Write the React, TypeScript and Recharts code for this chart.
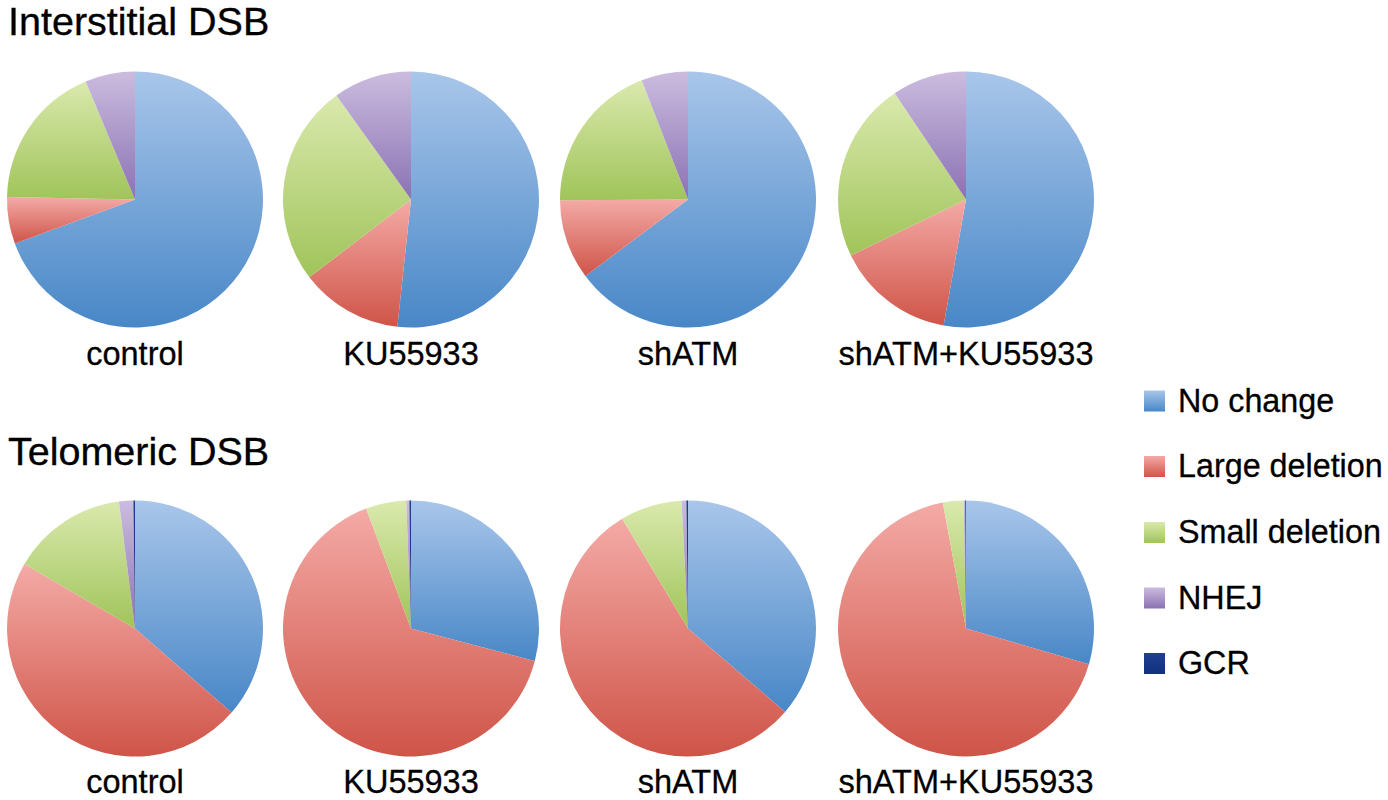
import React from 'react';
import { PieChart, Pie, Cell } from 'recharts';

const categories = ['No change', 'Large deletion', 'Small deletion', 'NHEJ', 'GCR'];
const conditions = ['control', 'KU55933', 'shATM', 'shATM+KU55933'];
const panelTitles = ['Interstitial DSB', 'Telomeric DSB'];

const interstitialControl = [69.4, 5.9, 18.4, 6.3, 0];
const interstitialKU = [51.7, 12.9, 25.5, 9.9, 0];
const interstitialShATM = [64.8, 10.1, 19.2, 5.9, 0];
const interstitialShATMKU = [52.8, 15.0, 22.8, 9.4, 0];

const telomericControl = [36.4, 47.0, 14.6, 1.8, 0.2];
const telomericKU = [29.1, 65.2, 5.1, 0.4, 0.2];
const telomericShATM = [36.3, 55.1, 7.8, 0.6, 0.2];
const telomericShATMKU = [29.5, 67.6, 2.6, 0.2, 0.1];

const rows = [
  [interstitialControl, interstitialKU, interstitialShATM, interstitialShATMKU],
  [telomericControl, telomericKU, telomericShATM, telomericShATMKU],
];

const gradTop = ['#A9C6EA', '#F4AAA6', '#DAE9AD', '#CBBCDF', '#1E3F92'];
const gradBottom = ['#4887C7', '#CF5448', '#A0C45A', '#8B72B3', '#13307F'];

const colX = [135, 411, 688, 966];
const rowY = [199.5, 628.5];
const radius = 128;
const labelY = [365, 793];
const titleY = [35, 465];
const legendY = [390.5, 456, 522, 587.5, 653];

const FONT = '"Liberation Sans", Arial, sans-serif';

export default function App() {
  return (
    <div style={{ position: 'absolute', left: 0, top: 0, width: 1388, height: 800, background: '#fff' }}>
      <svg width={0} height={0} style={{ position: 'absolute' }}>
        <defs>
          {categories.map((c, i) => (
            <linearGradient key={c} id={`grad-${i}`} x1="0" y1="0" x2="0" y2="1">
              <stop offset="0%" stopColor={gradTop[i]} />
              <stop offset="100%" stopColor={gradBottom[i]} />
            </linearGradient>
          ))}
        </defs>
      </svg>
      <div style={{ position: 'absolute', left: 0, top: 0 }}>
        <PieChart width={1388} height={800} margin={{ top: 0, right: 0, bottom: 0, left: 0 }}>
          {rows.map((row, r) =>
            row.map((vals, c) => (
              <Pie
                key={`pie-${r}-${c}`}
                data={categories.map((name, i) => ({ name, value: vals[i] }))}
                dataKey="value"
                nameKey="name"
                cx={colX[c]}
                cy={rowY[r]}
                outerRadius={radius}
                innerRadius={0}
                startAngle={90}
                endAngle={-270}
                stroke="none"
                isAnimationActive={false}
                label={false}
                labelLine={false}
              >
                {categories.map((name, i) => (
                  <Cell key={name} fill={`url(#grad-${i})`} stroke="none" />
                ))}
              </Pie>
            ))
          )}
        </PieChart>
      </div>
      <svg width={1388} height={800} style={{ position: 'absolute', left: 0, top: 0, pointerEvents: 'none' }}>
        {panelTitles.map((t, r) => (
          <text key={t} x={8} y={titleY[r]} fontFamily={FONT} fontSize={39.5} fill="#000" stroke="#000" strokeWidth={0.35}>
            {t}
          </text>
        ))}
        {rows.map((row, r) =>
          conditions.map((cond, c) => (
            <text
              key={`lbl-${r}-${c}`}
              x={colX[c]}
              y={labelY[r]}
              textAnchor="middle"
              fontFamily={FONT}
              fontSize={32.5}
              fill="#000"
              stroke="#000"
              strokeWidth={0.3}
            >
              {cond}
            </text>
          ))
        )}
        {categories.map((c, i) => (
          <g key={c}>
            <rect x={1144} y={legendY[i]} width={21} height={21} fill={`url(#grad-${i})`} />
            <text x={1178} y={legendY[i] + 21} fontFamily={FONT} fontSize={32.3} fill="#000" stroke="#000" strokeWidth={0.3}>
              {c}
            </text>
          </g>
        ))}
      </svg>
    </div>
  );
}
